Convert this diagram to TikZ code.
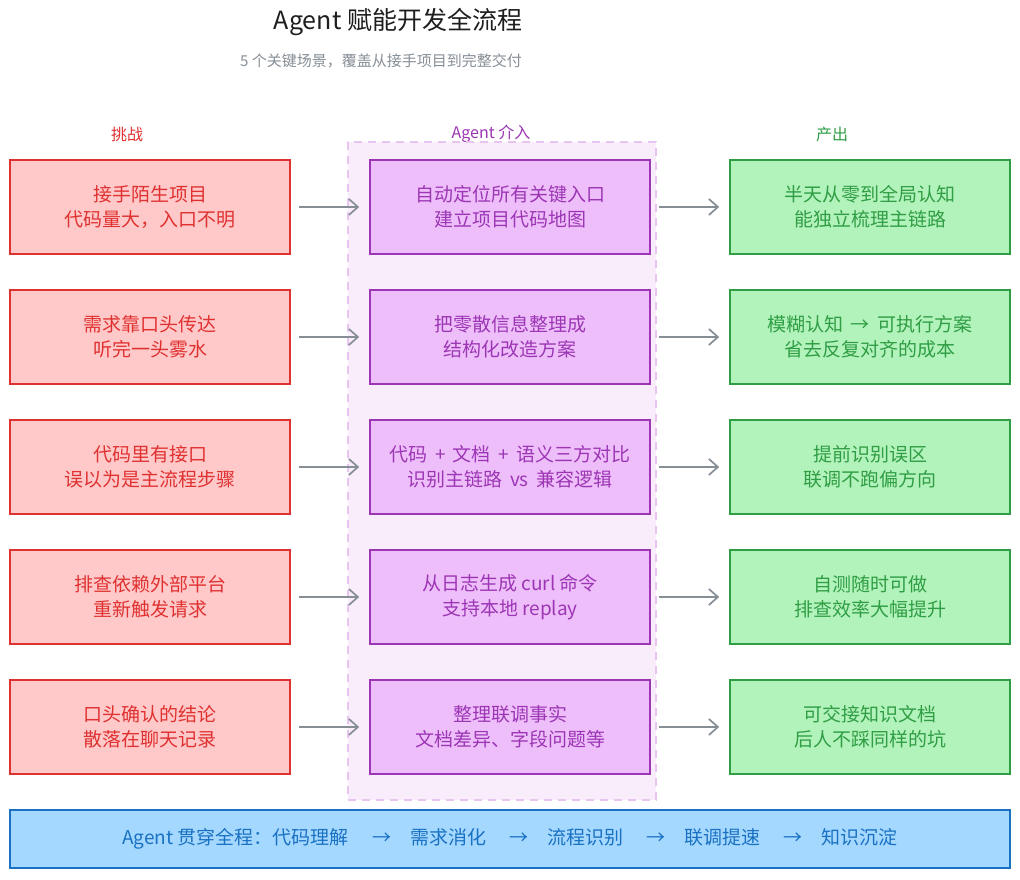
\documentclass[tikz,border=0pt]{standalone}
\usepackage{fontspec}
\setmainfont{Noto Sans CJK SC}
\usetikzlibrary{arrows.meta}
\definecolor{redfill}{HTML}{FFC9C9}
\definecolor{redline}{HTML}{E03131}
\definecolor{purfill}{HTML}{EEBEFA}
\definecolor{purline}{HTML}{9C36B5}
\definecolor{grnfill}{HTML}{B2F2BB}
\definecolor{grnline}{HTML}{2F9E44}
\definecolor{blufill}{HTML}{A5D8FF}
\definecolor{bluline}{HTML}{1971C2}
\definecolor{arrgray}{HTML}{868E96}
\definecolor{bgfill}{HTML}{F9EDFB}
\definecolor{bgline}{HTML}{E8C4F0}
\definecolor{titlecol}{HTML}{1E1E1E}
\begin{document}
\begin{tikzpicture}[x=1pt,y=-1pt,
  box/.style={draw, line width=1.6pt, minimum width=280pt, minimum height=94pt, align=center, inner sep=0pt, font=\fontsize{19}{25}\selectfont},
  chal/.style={box, fill=redfill, draw=redline, text=redline},
  agent/.style={box, fill=purfill, draw=purline, text=purline},
  outp/.style={box, fill=grnfill, draw=grnline, text=grnline},
  head/.style={font=\fontsize{16}{18}\selectfont, inner sep=0pt},
  arr/.style={draw=arrgray, line width=1.7pt, -{Straight Barb[length=9pt,width=16pt,line width=1.7pt]}, shorten <=8pt, shorten >=10pt}
]
\useasboundingbox (0,0) rectangle (1020,880);
\fill[white] (0,0) rectangle (1020,880);

\node[font=\fontsize{25}{28}\selectfont, text=titlecol] (title) at (398,22) {Agent 赋能开发全流程};
\node[font=\fontsize{15}{18}\selectfont, text=arrgray] (sub) at (381,61) {5 个关键场景，覆盖从接手项目到完整交付};

\node[head, text=redline] (h1) at (127,134) {挑战};
\node[head, text=purline] (h2) at (491,134) {Agent 介入};
\node[head, text=grnline] (h3) at (832,134) {产出};

\node[draw=bgline, fill=bgfill, dashed, line width=1.2pt, dash pattern=on 8pt off 6pt, minimum width=308pt, minimum height=658pt, inner sep=0pt] (bg) at (502,471) {};

\node[chal] (l1) at (150,207) {接手陌生项目\\代码量大，入口不明};
\node[chal] (l2) at (150,337) {需求靠口头传达\\听完一头雾水};
\node[chal] (l3) at (150,467) {代码里有接口\\误以为是主流程步骤};
\node[chal] (l4) at (150,597) {排查依赖外部平台\\重新触发请求};
\node[chal] (l5) at (150,727) {口头确认的结论\\散落在聊天记录};

\node[agent] (m1) at (510,207) {自动定位所有关键入口\\建立项目代码地图};
\node[agent] (m2) at (510,337) {把零散信息整理成\\结构化改造方案};
\node[agent] (m3) at (510,467) {代码 \,+\, 文档 \,+\, 语义三方对比\\识别主链路 \,vs\, 兼容逻辑};
\node[agent] (m4) at (510,597) {从日志生成 curl 命令\\支持本地 replay};
\node[agent] (m5) at (510,727) {整理联调事实\\文档差异、字段问题等};

\node[outp] (r1) at (870,207) {半天从零到全局认知\\能独立梳理主链路};
\node[outp] (r2) at (870,337) {模糊认知 \,→\, 可执行方案\\省去反复对齐的成本};
\node[outp] (r3) at (870,467) {提前识别误区\\联调不跑偏方向};
\node[outp] (r4) at (870,597) {自测随时可做\\排查效率大幅提升};
\node[outp] (r5) at (870,727) {可交接知识文档\\后人不踩同样的坑};

\foreach \i in {1,...,5} {
  \draw[arr] (l\i) -- (m\i);
  \draw[arr] (m\i) -- (r\i);
}

\node[box, fill=blufill, draw=bluline, text=bluline, minimum width=1000pt, minimum height=58pt] (bar) at (510,839) {Agent 贯穿全程：代码理解 \quad→\quad 需求消化 \quad→\quad 流程识别 \quad→\quad 联调提速 \quad→\quad 知识沉淀};
\end{tikzpicture}
\end{document}
